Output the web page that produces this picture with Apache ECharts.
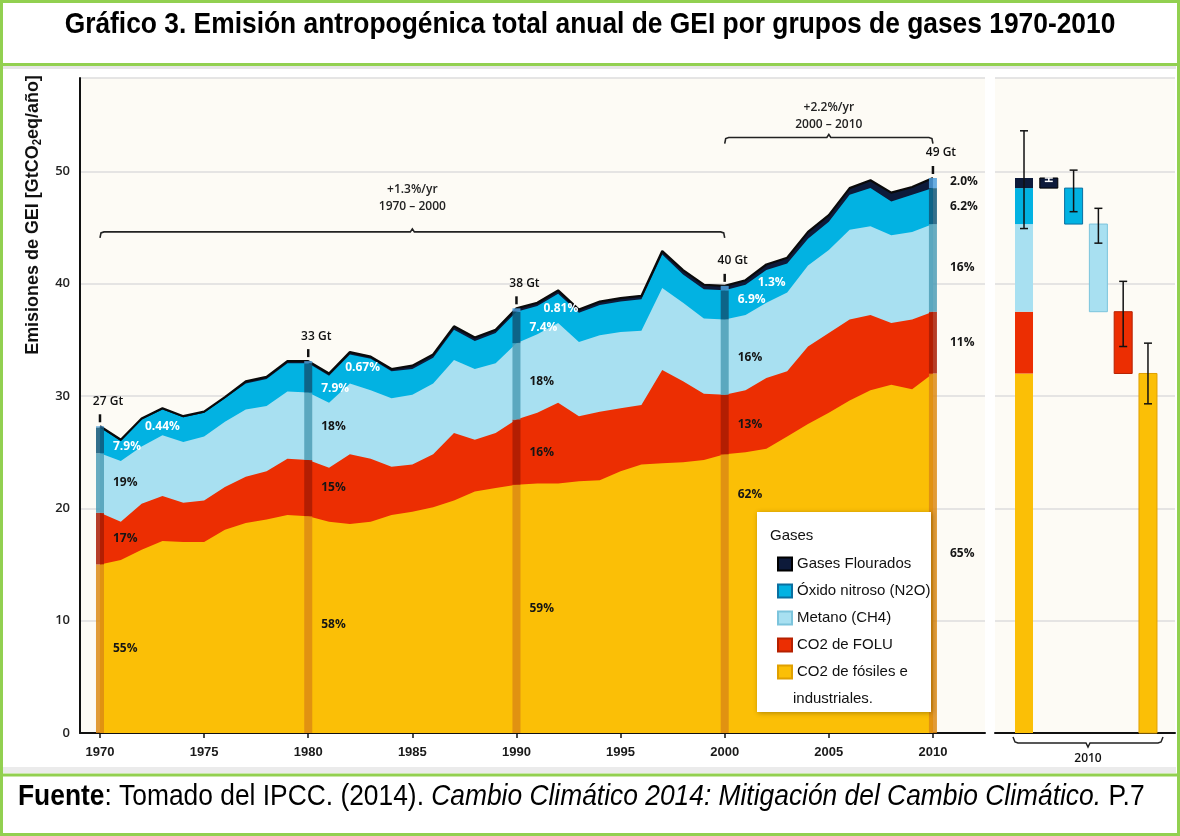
<!DOCTYPE html>
<html lang="es">
<head>
<meta charset="utf-8">
<title>Gráfico 3. Emisión antropogénica total anual de GEI</title>
<script src="https://cdn.jsdelivr.net/npm/echarts@6/dist/echarts.min.js"></script>
<style>
  html, body { margin: 0; padding: 0; background: #fff; }
  #chart { width: 1180px; height: 836px; }
</style>
</head>
<body>
<div id="chart"></div>
<script>
  // ---- datos (GtCO2eq/año) ----
  var anios = [1970, 1971, 1972, 1973, 1974, 1975, 1976, 1977, 1978, 1979,
               1980, 1981, 1982, 1983, 1984, 1985, 1986, 1987, 1988, 1989,
               1990, 1991, 1992, 1993, 1994, 1995, 1996, 1997, 1998, 1999,
               2000, 2001, 2002, 2003, 2004, 2005, 2006, 2007, 2008, 2009, 2010];

  var fosiles = [15.0, 15.4, 16.3, 17.1, 17.0, 17.0, 18.1, 18.7, 19.0, 19.4,
                 19.3, 18.8, 18.6, 18.8, 19.4, 19.7, 20.1, 20.7, 21.5, 21.8,
                 22.1, 22.2, 22.2, 22.4, 22.5, 23.3, 23.9, 24.0, 24.1, 24.3,
                 24.8, 25.0, 25.3, 26.4, 27.5, 28.5, 29.6, 30.5, 31.0, 30.6, 32.0];
  var folu = [4.6, 3.4, 4.1, 4.0, 3.5, 3.7, 3.8, 4.1, 4.3, 5.0,
              5.0, 4.8, 6.2, 5.6, 4.3, 4.2, 4.7, 6.0, 4.6, 4.9,
              5.8, 6.3, 7.2, 5.8, 6.1, 5.6, 5.3, 8.3, 7.2, 5.9,
              5.3, 5.5, 6.3, 5.8, 6.9, 7.1, 7.2, 6.7, 5.5, 6.2, 5.5];
  var metano = [5.3, 5.4, 5.1, 5.4, 5.4, 5.7, 5.8, 6.0, 5.8, 6.0,
                6.0, 5.8, 6.3, 6.1, 6.1, 6.2, 6.3, 6.5, 6.3, 6.2,
                6.8, 7.0, 7.1, 6.6, 6.8, 6.8, 6.6, 7.3, 7.0, 6.7,
                6.7, 6.7, 6.7, 7.0, 7.2, 7.4, 8.0, 7.9, 7.8, 7.8, 7.8];
  var nitroso = [2.3, 1.8, 2.4, 2.3, 2.2, 2.1, 2.1, 2.3, 2.4, 2.5,
                 2.6, 2.4, 2.6, 2.8, 2.4, 2.3, 2.3, 2.7, 2.5, 2.7,
                 2.8, 2.5, 2.6, 2.6, 2.7, 2.7, 2.8, 3.0, 2.5, 2.6,
                 2.6, 2.7, 2.9, 2.6, 2.4, 2.5, 3.1, 3.4, 3.0, 3.3, 3.2];
  var fluorados = [0.1, 0.1, 0.1, 0.1, 0.1, 0.1, 0.1, 0.2, 0.2, 0.2,
                   0.2, 0.2, 0.2, 0.2, 0.2, 0.3, 0.3, 0.3, 0.3, 0.3,
                   0.3, 0.3, 0.3, 0.3, 0.3, 0.3, 0.3, 0.3, 0.4, 0.4,
                   0.4, 0.4, 0.5, 0.5, 0.6, 0.6, 0.6, 0.7, 0.8, 0.7, 0.9];

  var decadas = [1970, 1980, 1990, 2000, 2010];
  var totalesDecada = ['27 Gt', '33 Gt', '38 Gt', '40 Gt', '49 Gt'];
  var pctFosiles = ['55%', '58%', '59%', '62%', '65%'];
  var pctFolu = ['17%', '15%', '16%', '13%', '11%'];
  var pctMetano = ['19%', '18%', '18%', '16%', '16%'];
  var pctNitroso = ['7.9%', '7.9%', '7.4%', '6.9%', '6.2%'];
  var pctFluorados = ['0.44%', '0.67%', '0.81%', '1.3%', '2.0%'];

  var periodos = [[1970, 2000], [2000, 2010]];
  var tasas = ['+1.3%/yr', '+2.2%/yr'];
  var rotulosPeriodo = ['1970 \u2013 2000', '2000 \u2013 2010'];

  // panel 2010: barra apilada y una barra por gas, con su incertidumbre
  var incertidumbreBaja = [44.9, 49.1, 46.4, 43.6, 34.4, 29.3];
  var incertidumbreAlta = [53.6, 49.4, 50.1, 46.7, 40.2, 34.7];

  var ticksX = [1970, 1975, 1980, 1985, 1990, 1995, 2000, 2005, 2010];

  var nombres = ['CO2 de fósiles e industriales.', 'CO2 de FOLU', 'Metano (CH4)',
                 'Óxido nitroso (N2O)', 'Gases Flourados'];
  var gases = [fosiles, folu, metano, nitroso, fluorados];
  var colores = ['#fbbf06', '#ec2e02', '#a8e0f1', '#02b2e2', '#0d1a3a'];
  var coloresBarra = ['#dc8a14', '#a91b02', '#4e9db6', '#0f5678', '#4f9fdc'];
  var bordesLeyenda = ['#e0a000', '#b52000', '#7cc4dc', '#0a6fa0', '#000'];

  var fNarrow = "'Liberation Sans', 'Arial', sans-serif";
  var fEtiq = "'Open Sans', 'DejaVu Sans', sans-serif";

  function acumulado(i) {
    var c = [0], s = 0;
    gases.forEach(function (arr) { s += arr[i]; c.push(Math.round(s * 100) / 100); });
    return c;
  }

  var chart = echarts.init(document.getElementById('chart'));

  // areas: cada gas se dibuja desde 0 hasta su suma acumulada, de arriba hacia abajo
  var series = [];
  for (var g = 4; g >= 0; g--) {
    (function (g) {
      series.push({
        name: nombres[g],
        type: 'line',
        xAxisIndex: 0, yAxisIndex: 0,
        symbol: 'none',
        data: anios.map(function (a, i) { return [a, acumulado(i)[g + 1]]; }),
        itemStyle: { color: colores[g], borderColor: bordesLeyenda[g], borderWidth: 1 },
        lineStyle: g === 4 ? { width: 2.2, color: '#0a0a0a' } : { width: 0 },
        areaStyle: { color: colores[g], opacity: 1 },
        emphasis: { disabled: true },
        z: 2
      });
    })(g);
  }

  // barras oscuras de 1970, 1980, ... con total y porcentajes
  var dyNitroso = [6, 11, 0, -5, 0];
  var dxFluor = [45, 37, 27, 33, 17];
  var dyFluor = [0, 6, 0, -3, 4];
  var pctTextos = [pctFosiles, pctFolu, pctMetano, pctNitroso, pctFluorados];

  series.push({
    name: 'decadas',
    type: 'custom',
    xAxisIndex: 0, yAxisIndex: 0,
    clip: false,
    z: 5,
    silent: true,
    data: decadas.map(function (d) { return [d, acumulado(anios.indexOf(d))[5]]; }),
    renderItem: function (params, api) {
      var k = params.dataIndex;
      var year = decadas[k];
      var c = acumulado(anios.indexOf(year));
      var ch = [];
      for (var s = 0; s < 5; s++) {
        var pt = api.coord([year, c[s + 1]]);
        var pb = api.coord([year, c[s]]);
        ch.push({ type: 'rect', shape: { x: pt[0] - 4, y: pt[1], width: 8, height: pb[1] - pt[1] },
                  style: { fill: coloresBarra[s], opacity: 0.85 } });
      }
      var top = api.coord([year, c[5]]);
      var x0 = top[0];
      ch.push({ type: 'line', shape: { x1: x0, y1: top[1] - 4, x2: x0, y2: top[1] - 12 },
                style: { stroke: '#111', lineWidth: 2.5 } });
      ch.push({ type: 'text', style: { text: totalesDecada[k], x: x0 + 8, y: top[1] - 25,
                align: 'center', verticalAlign: 'middle', font: '600 12px ' + fEtiq, fill: '#111' } });

      var ultimo = k === decadas.length - 1;
      var dx = ultimo ? 17 : 13;
      for (var g = 0; g < 5; g++) {
        var y;
        var x = x0 + dx;
        if (g === 0 && k === 3) {
          y = api.coord([year, c[1]])[1] + 40;
        } else if (g === 4) {
          y = top[1] + dyFluor[k];
          x = x0 + dxFluor[k];
        } else {
          y = api.coord([year, (c[g] + c[g + 1]) / 2])[1];
          if (g === 3) { y += dyNitroso[k]; }
        }
        var blanco = !ultimo && g >= 3;
        ch.push({ type: 'text', style: { text: pctTextos[g][k], x: x, y: y, align: 'left', verticalAlign: 'middle',
                  font: 'bold 12px ' + fEtiq, fill: blanco ? '#ffffff' : '#151515' } });
      }
      return { type: 'group', children: ch };
    }
  });

  // llaves de tasas de crecimiento
  var alturaLlave = [44.6, 53.0];
  var sepTexto = [[42, 25], [30, 13]];
  series.push({
    name: 'llaves',
    type: 'custom',
    xAxisIndex: 0, yAxisIndex: 0,
    clip: false,
    silent: true,
    z: 6,
    data: periodos.map(function (p, i) { return [p[0], alturaLlave[i]]; }),
    renderItem: function (params, api) {
      var i = params.dataIndex;
      var a = api.coord([periodos[i][0], alturaLlave[i]]);
      var b = api.coord([periodos[i][1], alturaLlave[i]]);
      var m = (a[0] + b[0]) / 2, y = a[1];
      return {
        type: 'group',
        children: [
          { type: 'polyline', shape: { points: [[a[0], y + 6], [a[0] + 1, y + 1], [a[0] + 4, y], [m - 2, y], [m, y - 3],
                                              [m + 2, y], [b[0] - 4, y], [b[0] - 1, y + 1], [b[0], y + 6]] },
            style: { stroke: '#222', lineWidth: 1.6, fill: null } },
          { type: 'text', style: { text: tasas[i], x: m, y: y - sepTexto[i][0], align: 'center', verticalAlign: 'middle',
                                   font: '600 12px ' + fEtiq, fill: '#222' } },
          { type: 'text', style: { text: rotulosPeriodo[i], x: m, y: y - sepTexto[i][1], align: 'center', verticalAlign: 'middle',
                                   font: '600 12px ' + fEtiq, fill: '#222' } }
        ]
      };
    }
  });

  // panel derecho 2010
  var i2010 = anios.indexOf(2010);
  var c10 = acumulado(i2010);
  var barras2010 = [];
  for (var s = 0; s < 5; s++) { barras2010.push([0, c10[s], c10[s + 1], s]); }
  [4, 3, 2, 1, 0].forEach(function (g, n) { barras2010.push([n + 1, c10[g], c10[g + 1], g]); });

  series.push({
    name: 'barras2010',
    type: 'custom',
    xAxisIndex: 1, yAxisIndex: 1,
    silent: true,
    z: 3,
    encode: { x: 0, y: [1, 2] },
    data: barras2010,
    renderItem: function (params, api) {
      var pt = api.coord([api.value(0), api.value(2)]);
      var pb = api.coord([api.value(0), api.value(1)]);
      var g = api.value(3);
      return { type: 'rect', shape: { x: pt[0] - 9, y: pt[1], width: 18, height: pb[1] - pt[1] },
               style: { fill: colores[g], stroke: api.value(0) === 0 ? null : bordesLeyenda[g], lineWidth: 1 } };
    }
  });

  series.push({
    name: 'incertidumbre',
    type: 'custom',
    xAxisIndex: 1, yAxisIndex: 1,
    silent: true,
    z: 4,
    encode: { x: 0, y: [1, 2] },
    data: incertidumbreBaja.map(function (v, n) { return [n, v, incertidumbreAlta[n]]; }),
    renderItem: function (params, api) {
      var hi = api.coord([api.value(0), api.value(2)]);
      var lo = api.coord([api.value(0), api.value(1)]);
      var col = params.dataIndex === 1 ? '#ffffff' : '#111';
      return {
        type: 'group',
        children: [
          { type: 'line', shape: { x1: hi[0], y1: hi[1], x2: lo[0], y2: lo[1] }, style: { stroke: col, lineWidth: 1.5 } },
          { type: 'line', shape: { x1: hi[0] - 4, y1: hi[1], x2: hi[0] + 4, y2: hi[1] }, style: { stroke: col, lineWidth: 1.5 } },
          { type: 'line', shape: { x1: lo[0] - 4, y1: lo[1], x2: lo[0] + 4, y2: lo[1] }, style: { stroke: col, lineWidth: 1.5 } }
        ]
      };
    }
  });

  var verde = '#92d050';

  var option = {
    animation: false,
    backgroundColor: '#ffffff',
    grid: [
      { left: 80, right: 195, top: 78, bottom: 103, show: true, backgroundColor: '#fdfbf5', borderWidth: 0 },
      { left: 995, right: 5, top: 78, bottom: 103, show: true, backgroundColor: '#fdfbf5', borderWidth: 0 }
    ],
    xAxis: [
      {
        type: 'value', gridIndex: 0, min: 1969.04, max: 2012.5,
        axisLine: { lineStyle: { color: '#111', width: 2 } },
        axisTick: { customValues: ticksX, length: 5, lineStyle: { color: '#111', width: 1.5 } },
        axisLabel: { customValues: ticksX, formatter: function (v) { return String(v); }, margin: 13,
                     fontFamily: fNarrow, fontWeight: 'bold', fontSize: 13, color: '#1a1a1a' },
        splitLine: { show: false }
      },
      {
        type: 'value', gridIndex: 1, min: -1.17, max: 6.09,
        axisLine: { lineStyle: { color: '#111', width: 2 } },
        axisTick: { show: false }, axisLabel: { show: false }, splitLine: { show: false }
      }
    ],
    yAxis: [
      {
        type: 'value', gridIndex: 0, min: 0, max: 58.3, interval: 10,
        axisLine: { show: true, lineStyle: { color: '#111', width: 2 } },
        axisTick: { show: false },
        axisLabel: { showMaxLabel: false, margin: 10, fontFamily: fEtiq, fontWeight: 600, fontSize: 13, color: '#222' },
        splitLine: { lineStyle: { color: '#dcdcdc', width: 1.5 } }
      },
      {
        type: 'value', gridIndex: 1, min: 0, max: 58.3, interval: 10,
        axisLine: { show: false }, axisTick: { show: false }, axisLabel: { show: false },
        splitLine: { lineStyle: { color: '#dcdcdc', width: 1.5 } }
      }
    ],
    legend: {
      data: ['Gases Flourados', 'Óxido nitroso (N2O)', 'Metano (CH4)', 'CO2 de FOLU', 'CO2 de fósiles e industriales.'],
      orient: 'vertical', left: 772, top: 550,
      itemWidth: 14, itemHeight: 13, itemGap: 9,
      icon: 'rect',
      selectedMode: false,
      textStyle: { fontFamily: fNarrow, fontSize: 15, color: '#111', lineHeight: 18 },
      formatter: function (n) { return n === 'CO2 de fósiles e industriales.' ? 'CO2 de fósiles e' : n; },
      z: 20
    },
    graphic: [
      { type: 'rect', shape: { x: 757, y: 512, width: 174, height: 200 }, z: 15,
        style: { fill: '#ffffff', shadowBlur: 5, shadowColor: 'rgba(0,0,0,0.3)', shadowOffsetX: 1, shadowOffsetY: 1 } },
      { type: 'text', z: 16, style: { text: 'Gases', x: 770, y: 536, verticalAlign: 'middle', font: '15px ' + fNarrow, fill: '#111' } },
      { type: 'text', z: 16, style: { text: 'industriales.', x: 793, y: 699, verticalAlign: 'middle', font: '15px ' + fNarrow, fill: '#111' } },

      { type: 'text', z: 16, rotation: Math.PI / 2, x: 33, y: 215, scaleX: 0.945,
        style: { text: '{a|Emisiones de GEI [GtCO}{s|2}{a|eq/año]}', align: 'center', verticalAlign: 'middle',
                 rich: { a: { font: 'bold 19px ' + fNarrow, fill: '#111', lineHeight: 22 },
                         s: { font: 'bold 12px ' + fNarrow, fill: '#111', lineHeight: 10, verticalAlign: 'bottom' } } } },

      { type: 'polyline', z: 16, shape: { points: [[1013, 737], [1015, 742], [1018, 743], [1086, 743], [1088, 747],
                                                  [1090, 743], [1158, 743], [1161, 742], [1163, 737]] },
        style: { stroke: '#222', lineWidth: 1.5, fill: null } },
      { type: 'text', z: 16, style: { text: '2010', x: 1088, y: 759, align: 'center', verticalAlign: 'middle',
                                      font: '600 12px ' + fEtiq, fill: '#111' } },

      { type: 'rect', z: 1, shape: { x: 3, y: 767, width: 1173, height: 6 }, style: { fill: '#ebebeb' } },
      { type: 'rect', z: 1, shape: { x: 3, y: 66, width: 1173, height: 3 }, style: { fill: '#e6e6e6' } },
      { type: 'line', z: 30, shape: { x1: 0, y1: 64.5, x2: 1180, y2: 64.5 }, style: { stroke: verde, lineWidth: 3 } },
      { type: 'line', z: 30, shape: { x1: 0, y1: 775, x2: 1180, y2: 775 }, style: { stroke: verde, lineWidth: 3 } },
      { type: 'rect', z: 30, shape: { x: 1.5, y: 1.5, width: 1177, height: 833 }, style: { fill: null, stroke: verde, lineWidth: 3 } },

      { type: 'text', z: 31, x: 590, y: 25, scaleX: 0.879,
        style: { text: 'Gráfico 3. Emisión antropogénica total anual de GEI por grupos de gases 1970-2010',
                 x: 0, y: 0, align: 'center', verticalAlign: 'middle', font: 'bold 30px ' + fNarrow, fill: '#000' } },
      { type: 'text', z: 31, x: 18, y: 797, scaleX: 0.879,
        style: { x: 0, y: 0, verticalAlign: 'middle',
        text: '{b|Fuente}{r|: Tomado del IPCC. (2014). }{i|Cambio Climático 2014: Mitigación del Cambio Climático.}{r| P.7}',
        rich: { b: { font: 'bold 30px ' + fNarrow, fill: '#000' },
                r: { font: '30px ' + fNarrow, fill: '#000' },
                i: { font: 'italic 30px ' + fNarrow, fill: '#000' } } } }
    ],
    series: series
  };

  chart.setOption(option);
</script>
</body>
</html>
